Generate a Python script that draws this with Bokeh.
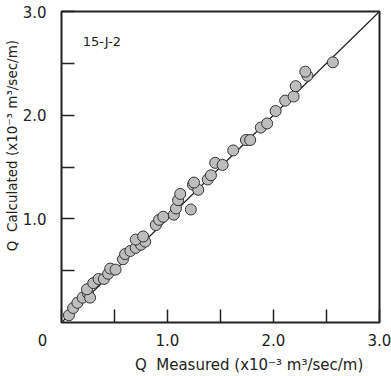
from bokeh.plotting import figure
from bokeh.models import Range1d, Label, FixedTicker, ColumnDataSource
from bokeh.embed import file_html
from bokeh.resources import INLINE

measured = [0.07, 0.11, 0.15, 0.20, 0.25, 0.27, 0.24, 0.30, 0.35, 0.40, 0.44, 0.46, 0.51,
            0.58, 0.60, 0.65, 0.70, 0.75, 0.79, 0.70, 0.77, 0.89, 0.92, 0.96, 1.06, 1.08,
            1.10, 1.12, 1.22, 1.24, 1.29, 1.38, 1.25, 1.41, 1.45, 1.52, 1.62, 1.74, 1.78,
            1.88, 1.94, 2.02, 2.11, 2.19, 2.21, 2.32, 2.30, 2.56]
calculated = [0.07, 0.14, 0.19, 0.24, 0.28, 0.24, 0.32, 0.38, 0.42, 0.42, 0.47, 0.52, 0.51,
              0.61, 0.66, 0.69, 0.72, 0.75, 0.78, 0.80, 0.83, 0.94, 0.99, 1.02, 1.04, 1.10,
              1.18, 1.24, 1.09, 1.33, 1.28, 1.38, 1.35, 1.42, 1.54, 1.52, 1.66, 1.76, 1.76,
              1.88, 1.92, 2.04, 2.14, 2.18, 2.28, 2.38, 2.42, 2.51]
fit_x = [0.0, 3.0]
fit_y = [0.0, 3.0]
x_ticks = [0.0, 0.5, 1.0, 1.5, 2.0, 2.5, 3.0]
y_ticks = [0.5, 1.0, 1.5, 2.0, 2.5, 3.0]
NB = "\u00a0"
x_tick_labels = {0.0: "0" + NB * 8, 0.5: "", 1.0: "1.0", 1.5: "", 2.0: "2.0", 2.5: "",
                 3.0: "3.0"}
y_tick_labels = {0.5: "", 1.0: "1.0", 1.5: "", 2.0: "2.0", 2.5: "", 3.0: "3.0"}
x_title = "Q" + NB + " Measured (x10\u207b\u00b3 m\u00b3/sec/m)"
y_title = "Q" + NB + " Calculated (x10\u207b\u00b3 m\u00b3/sec/m)"

FONT = "DejaVu Sans"

p = figure(width=391, height=376, output_backend="svg", toolbar_location=None,
           x_range=Range1d(0, 3), y_range=Range1d(0, 3),
           min_border_left=61, min_border_right=12, min_border_top=11, min_border_bottom=49)
p.background_fill_color = "white"
p.border_fill_color = "white"
p.grid.visible = False
p.outline_line_color = "#222222"
p.outline_line_width = 2

for ax, tk, lb in ((p.xaxis[0], x_ticks, x_tick_labels), (p.yaxis[0], y_ticks, y_tick_labels)):
    ax.ticker = FixedTicker(ticks=tk)
    ax.major_label_overrides = lb
    ax.minor_tick_line_color = None
    ax.major_tick_in = 13
    ax.major_tick_out = 0
    ax.major_tick_line_color = "#222222"
    ax.major_tick_line_width = 1.5
    ax.axis_line_color = None
    ax.major_label_text_font = FONT
    ax.major_label_text_font_size = "15px"
    ax.major_label_text_color = "#222222"
    ax.axis_label_text_font = FONT
    ax.axis_label_text_font_style = "normal"
    ax.axis_label_text_color = "#222222"

# leading non-breaking spaces shift the centred titles as in the original
p.xaxis.axis_label = NB * 12 + x_title
p.yaxis.axis_label = NB * 10 + y_title
p.xaxis.axis_label_text_font_size = "15px"
p.yaxis.axis_label_text_font_size = "13.5px"
p.xaxis.major_label_standoff = 9
p.yaxis.major_label_standoff = 15
p.xaxis.axis_label_standoff = 3
p.yaxis.axis_label_standoff = 0

p.line(fit_x, fit_y, line_color="#222222", line_width=1.2)
src = ColumnDataSource(dict(x=measured, y=calculated))
p.scatter("x", "y", source=src, size=11, fill_color="#bdbdbd", line_color="#333333",
          line_width=1)

p.add_layout(Label(x=0.2, y=2.71, text="15-J-2", text_font=FONT, text_font_size="13px",
                   text_color="#222222", text_baseline="middle"))

open("out.html", "w").write(file_html(p, INLINE))
